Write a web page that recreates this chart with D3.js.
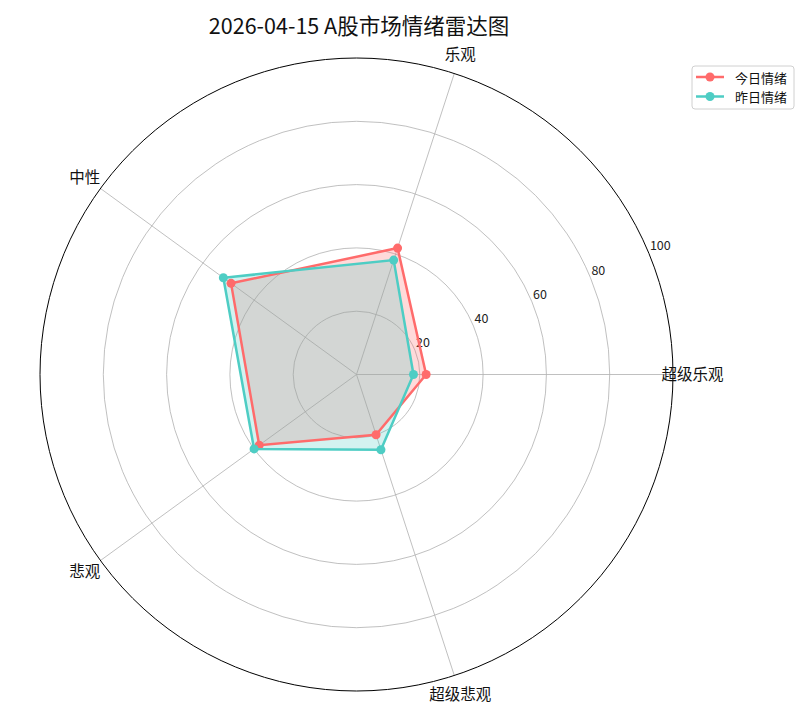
<!DOCTYPE html>
<html>
<head>
<meta charset="utf-8">
<script src="https://cdn.jsdelivr.net/npm/d3@7"></script>
<style>
  body { margin: 0; background: #fff; }
  text { font-family: "Noto Sans CJK SC", "DejaVu Sans", sans-serif; }
</style>
</head>
<body>
<div id="chart"></div>
<script>
// categories and series
const categories = ["超级乐观", "乐观", "中性", "悲观", "超级悲观"];
const todayValues = [22, 42, 49, 38, 20];
const yesterdayValues = [18, 38, 52, 40, 25];
const rTicks = [20, 40, 60, 80, 100];
const seriesNames = ["今日情绪", "昨日情绪"];
const seriesColors = ["#FF6B6B", "#4ECDC4"];
const titleText = "2026-04-15 A股市场情绪雷达图";

const width = 812, height = 721;
const cx = 356.5, cy = 374.5, outerR = 316.5;

const svg = d3.select("#chart").append("svg")
    .attr("width", width)
    .attr("height", height);

const r = d3.scaleLinear().domain([0, 100]).range([0, outerR]);
// angle in radians, counter-clockwise from east
const angle = d3.scaleLinear().domain([0, categories.length]).range([0, 2 * Math.PI]);

const px = (i, v) => cx + r(v) * Math.cos(angle(i));
const py = (i, v) => cy - r(v) * Math.sin(angle(i));

const g = svg.append("g");

// grid circles
g.selectAll("circle.grid")
    .data(rTicks.slice(0, -1))
    .enter().append("circle")
    .attr("cx", cx).attr("cy", cy)
    .attr("r", d => r(d))
    .attr("fill", "none")
    .attr("stroke", "#b0b0b0")
    .attr("stroke-width", 0.8);

// spokes
g.selectAll("line.spoke")
    .data(categories)
    .enter().append("line")
    .attr("x1", cx).attr("y1", cy)
    .attr("x2", (d, i) => px(i, 100))
    .attr("y2", (d, i) => py(i, 100))
    .attr("stroke", "#b0b0b0")
    .attr("stroke-width", 0.8);

// outer frame
g.append("circle")
    .attr("cx", cx).attr("cy", cy)
    .attr("r", outerR)
    .attr("fill", "none")
    .attr("stroke", "#000")
    .attr("stroke-width", 1);

// radial tick labels at 22.5 degrees
const labelAngle = 22.5 * Math.PI / 180;
g.selectAll("text.rtick")
    .data(rTicks)
    .enter().append("text")
    .attr("x", d => cx + r(d) * Math.cos(labelAngle) + 1)
    .attr("y", d => cy - r(d) * Math.sin(labelAngle) - 3)
    .attr("font-size", 12.5)
    .attr("fill", "#222")
    .text(d => d);

// category labels
g.selectAll("text.cat")
    .data(categories)
    .enter().append("text")
    .attr("x", (d, i) => cx + 336 * Math.cos(angle(i)))
    .attr("y", (d, i) => cy - 336 * Math.sin(angle(i)) - 1.5)
    .attr("text-anchor", "middle")
    .attr("dominant-baseline", "central")
    .attr("font-size", 15.5)
    .attr("fill", "#111")
    .text(d => d);

// series
const line = d3.line()
    .x(d => px(d.i, d.v))
    .y(d => py(d.i, d.v));

[todayValues, yesterdayValues].forEach((vals, s) => {
    const pts = vals.map((v, i) => ({ i, v }));
    const closed = pts.concat([pts[0]]);
    g.append("path")
        .datum(closed)
        .attr("d", line)
        .attr("fill", seriesColors[s])
        .attr("fill-opacity", 0.25)
        .attr("stroke", "none");
});

[todayValues, yesterdayValues].forEach((vals, s) => {
    const pts = vals.map((v, i) => ({ i, v }));
    const closed = pts.concat([pts[0]]);
    g.append("path")
        .datum(closed)
        .attr("d", line)
        .attr("fill", "none")
        .attr("stroke", seriesColors[s])
        .attr("stroke-width", 2.5);
    g.selectAll(null)
        .data(pts)
        .enter().append("circle")
        .attr("cx", d => px(d.i, d.v))
        .attr("cy", d => py(d.i, d.v))
        .attr("r", 4.5)
        .attr("fill", seriesColors[s]);
});

// title
svg.append("text")
    .attr("x", 359)
    .attr("y", 24)
    .attr("text-anchor", "middle")
    .attr("dominant-baseline", "central")
    .attr("font-size", 21.5)
    .attr("fill", "#111")
    .text(titleText);

// legend
const legend = svg.append("g").attr("transform", "translate(692,66)");
legend.append("rect")
    .attr("width", 102).attr("height", 43)
    .attr("rx", 3)
    .attr("fill", "#fff")
    .attr("stroke", "#d0d0d0")
    .attr("stroke-width", 1);

const items = legend.selectAll("g.item")
    .data(seriesNames)
    .enter().append("g")
    .attr("transform", (d, i) => `translate(0, ${11 + i * 19.5})`);
items.append("line")
    .attr("x1", 4).attr("x2", 32)
    .attr("stroke", (d, i) => seriesColors[i])
    .attr("stroke-width", 2.5);
items.append("circle")
    .attr("cx", 18).attr("r", 4.5)
    .attr("fill", (d, i) => seriesColors[i]);
items.append("text")
    .attr("x", 43)
    .attr("dominant-baseline", "central")
    .attr("font-size", 13)
    .attr("fill", "#111")
    .text(d => d);
</script>
</body>
</html>
